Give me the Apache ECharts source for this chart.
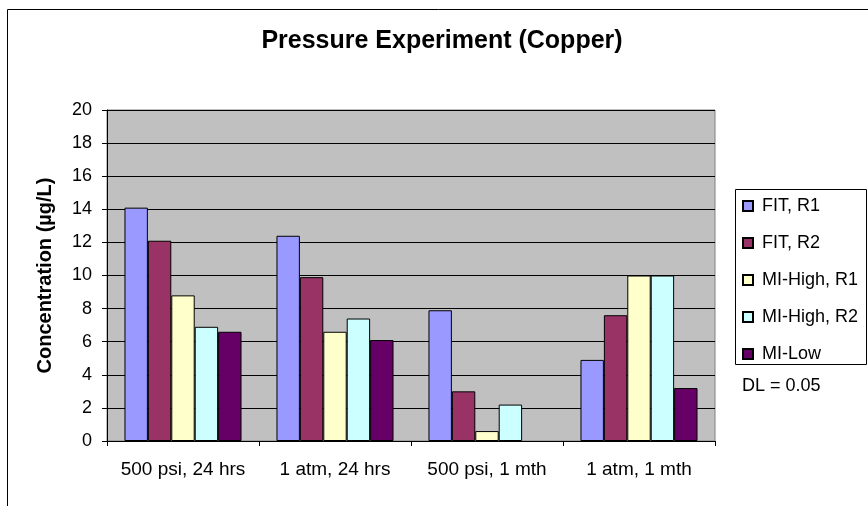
<!DOCTYPE html>
<html>
<head>
<meta charset="utf-8">
<script src="https://cdn.jsdelivr.net/npm/echarts@6/dist/echarts.min.js"></script>
<style>
  html, body { margin: 0; padding: 0; background: #fff; }
  #chart { width: 868px; height: 506px; }
</style>
</head>
<body>
<div id="chart"></div>
<script>
// Test conditions along the x axis
const categories = ['500 psi, 24 hrs', '1 atm, 24 hrs', '500 psi, 1 mth', '1 atm, 1 mth'];

// Copper concentration (µg/L) per sampler type
const fitR1 = [14.1, 12.4, 7.9, 4.9];
const fitR2 = [12.1, 9.9, 3.0, 7.6];
const miHighR1 = [8.8, 6.6, 0.6, 10.0];
const miHighR2 = [6.9, 7.4, 2.2, 10.0];
const miLow = [6.6, 6.1, null, 3.2];

const seriesNames = ['FIT, R1', 'FIT, R2', 'MI-High, R1', 'MI-High, R2', 'MI-Low'];
const seriesData = [fitR1, fitR2, miHighR1, miHighR2, miLow];
const seriesColors = ['#9999FF', '#993366', '#FFFFCC', '#CCFFFF', '#660066'];

const FONT = '"Liberation Sans", Arial, sans-serif';

const chart = echarts.init(document.getElementById('chart'), null, { renderer: 'canvas' });

chart.setOption({
  animation: false,
  backgroundColor: '#ffffff',
  title: {
    text: 'Pressure Experiment (Copper)',
    left: 437,
    top: 24,
    textAlign: 'center',
    textStyle: { fontFamily: FONT, fontSize: 25, fontWeight: 'bold', color: '#000' }
  },
  grid: {
    left: 107,
    right: 153,
    top: 110,
    bottom: 65,
    show: true,
    backgroundColor: '#C0C0C0',
    borderColor: '#808080',
    borderWidth: 1
  },
  legend: {
    orient: 'vertical',
    left: 742,
    top: 197,
    itemWidth: 10,
    itemHeight: 10,
    itemGap: 19,
    padding: 0,
    icon: 'rect',
    textStyle: { fontFamily: FONT, fontSize: 18, color: '#000', lineHeight: 18, padding: [0, 0, 0, 4] },
    data: seriesNames
  },
  xAxis: {
    type: 'category',
    data: categories,
    axisLine: { lineStyle: { color: '#000', width: 1 } },
    axisTick: { show: true, length: 5, lineStyle: { color: '#000' } },
    axisLabel: {
      interval: 0,
      hideOverlap: false,
      fontFamily: FONT,
      fontSize: 19,
      color: '#000',
      margin: 19
    }
  },
  yAxis: {
    type: 'value',
    min: 0,
    max: 20,
    interval: 2,
    name: 'Concentration (µg/L)',
    nameLocation: 'middle',
    nameGap: 52,
    nameTextStyle: { fontFamily: FONT, fontSize: 20, fontWeight: 'bold', color: '#000' },
    axisLine: { show: true, lineStyle: { color: '#000', width: 1 } },
    axisTick: { show: true, length: 5, lineStyle: { color: '#000' } },
    axisLabel: { fontFamily: FONT, fontSize: 18, color: '#000', margin: 15 },
    splitLine: { show: true, lineStyle: { color: '#000', width: 1 } }
  },
  graphic: [
    // outer chart frame
    {
      type: 'polyline',
      shape: { points: [[7.5, 520], [7.5, 9.5], [880, 9.5]] },
      style: { stroke: '#000', lineWidth: 1, fill: null },
      silent: true
    },
    // legend box
    {
      type: 'rect',
      z: -1,
      shape: { x: 735.5, y: 189.5, width: 131, height: 175 },
      style: { fill: '#fff', stroke: '#000', lineWidth: 1 },
      silent: true
    },
    {
      type: 'text',
      left: 742,
      top: 377,
      style: { text: 'DL = 0.05', font: '18px ' + FONT, fill: '#000' }
    }
  ],
  series: seriesNames.map((name, i) => ({
    name: name,
    type: 'bar',
    data: seriesData[i],
    barGap: '0%',
    barCategoryGap: '23%',
    itemStyle: { color: seriesColors[i], borderColor: '#000', borderWidth: 1 }
  }))
});
</script>
</body>
</html>
